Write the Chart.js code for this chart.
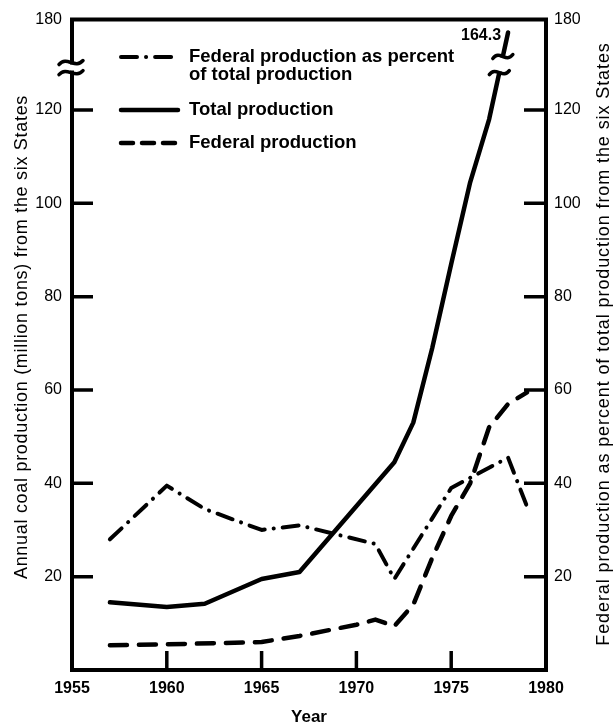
<!DOCTYPE html>
<html>
<head>
<meta charset="utf-8">
<script src="https://cdn.jsdelivr.net/npm/chart.js@4.4.0/dist/chart.umd.min.js"></script>
<style>
  html, body { margin: 0; padding: 0; background: #fff; }
  #wrap { width: 615px; height: 726px; }
</style>
</head>
<body>
<div id="wrap"><canvas id="c" width="615" height="726"></canvas></div>
<script>
// ---- data ----
const totalYears = [1957, 1960, 1962, 1965, 1967, 1972, 1973, 1974, 1975, 1976, 1977, 1978];
const totalProduction = [14.5, 13.5, 14.2, 19.5, 21.0, 44.5, 53, 69, 87, 104.5, 118, 164.3];

const federalYears = [1957, 1960, 1965, 1967, 1970, 1971, 1972, 1973, 1974, 1975, 1976, 1977, 1978, 1979];
const federalProduction = [5.3, 5.5, 6.0, 7.3, 9.7, 10.8, 9.4, 14, 24, 33, 40, 52, 57, 59.5];

const percentYears = [1957, 1960, 1962, 1965, 1967, 1971, 1972, 1975, 1978, 1979];
const federalPercent = [28, 39.5, 34.5, 30, 31, 27, 19.5, 39, 45.5, 35];

const yearTicks = [1955, 1960, 1965, 1970, 1975, 1980];
const valueTicks = [20, 40, 60, 80, 100, 120, 180];
const totalEndLabel = '164.3';

const legendLabels = [
  ['Federal production as percent', 'of total production'],
  ['Total production'],
  ['Federal production']
];
const leftTitle = 'Annual coal production (million tons) from the six States';
const rightTitle = 'Federal production as percent of total production from the six States';
const xTitle = 'Year';

// ---- broken value axis (0..128 linear, break, 128..180 compressed) ----
const BREAK_VALUE = 128, AXIS_MAX = 180;
const LOWER_FRAC = 0.9185, UPPER_FRAC = 0.934;

class BrokenLinearScale extends Chart.LinearScale {
  buildTicks() { return valueTicks.map(v => ({ value: v })); }
  _frac(v) {
    if (v <= BREAK_VALUE) return v / BREAK_VALUE * LOWER_FRAC;
    return UPPER_FRAC + (v - BREAK_VALUE) / (AXIS_MAX - BREAK_VALUE) * (1 - UPPER_FRAC);
  }
  getPixelForValue(v) {
    if (v === null || v === undefined || isNaN(v)) return NaN;
    return this.getPixelForDecimal(this._frac(v));
  }
  getValueForPixel(p) {
    const d = this.getDecimalForPixel(p);
    if (d <= LOWER_FRAC) return d / LOWER_FRAC * BREAK_VALUE;
    return BREAK_VALUE + (d - UPPER_FRAC) / (1 - UPPER_FRAC) * (AXIS_MAX - BREAK_VALUE);
  }
}
BrokenLinearScale.id = 'brokenLinear';
BrokenLinearScale.defaults = Chart.LinearScale.defaults;
Chart.register(BrokenLinearScale);

const NARROW = "'Liberation Sans Narrow', 'Arial Narrow', 'Liberation Sans', Arial, sans-serif";
const REGULAR = "'Liberation Sans', Arial, Helvetica, sans-serif";

const pts = (xs, ys) => xs.map((x, i) => ({ x: x, y: ys[i] }));

const DASHDOT = [16, 9, 0.1, 9];
const DASHED = [17, 12];

function tilde(ctx, cx, cy, hw) {
  ctx.beginPath();
  ctx.moveTo(cx - hw, cy + 2);
  ctx.bezierCurveTo(cx - hw / 3, cy - 7, cx + hw / 3, cy + 7, cx + hw, cy - 2);
  ctx.stroke();
}

const framePlugin = {
  id: 'frame',
  afterDraw(chart) {
    const { ctx, chartArea: a, scales } = chart;
    const x = scales.x, y = scales.y;
    ctx.save();
    ctx.strokeStyle = '#000';
    ctx.fillStyle = '#000';
    const yBrkLow = y.getPixelForValue(BREAK_VALUE);
    const yBrkHigh = y.getPixelForDecimal(UPPER_FRAC);

    // frame
    ctx.lineWidth = 4;
    ctx.lineCap = 'square';
    ctx.beginPath();
    ctx.moveTo(a.left, a.top); ctx.lineTo(a.right, a.top);
    ctx.lineTo(a.right, a.bottom); ctx.lineTo(a.left, a.bottom);
    ctx.lineTo(a.left, yBrkLow);
    ctx.moveTo(a.left, yBrkHigh); ctx.lineTo(a.left, a.top);
    ctx.stroke();

    // break marks on the left axis
    ctx.lineWidth = 3.5;
    ctx.lineCap = 'round';
    tilde(ctx, a.left - 1, yBrkHigh, 12);
    tilde(ctx, a.left - 1, yBrkLow, 12);

    // inward tick marks
    ctx.lineWidth = 3.5;
    ctx.lineCap = 'butt';
    valueTicks.forEach(v => {
      if (v > BREAK_VALUE) return;
      const py = y.getPixelForValue(v);
      ctx.beginPath();
      ctx.moveTo(a.left, py); ctx.lineTo(a.left + 21, py);
      ctx.moveTo(a.right - 22, py); ctx.lineTo(a.right, py);
      ctx.stroke();
    });
    yearTicks.forEach(v => {
      if (v <= x.min || v >= x.max) return;
      const px = x.getPixelForValue(v);
      ctx.beginPath();
      ctx.moveTo(px, a.bottom); ctx.lineTo(px, a.bottom - 19);
      ctx.stroke();
    });

    // break on the total production line
    const meta = chart.getDatasetMeta(1);
    const els = meta.data;
    const pA = els[els.length - 2], pB = els[els.length - 1];
    const xAt = yy => pA.x + (pB.x - pA.x) * (yy - pA.y) / (pB.y - pA.y);
    ctx.fillStyle = '#fff';
    ctx.beginPath();
    ctx.moveTo(xAt(yBrkLow) - 12, yBrkLow - 1);
    ctx.lineTo(xAt(yBrkLow) + 12, yBrkLow - 1);
    ctx.lineTo(xAt(yBrkHigh - 6) + 12, yBrkHigh - 5);
    ctx.lineTo(xAt(yBrkHigh - 6) - 12, yBrkHigh - 5);
    ctx.closePath();
    ctx.fill();
    ctx.lineWidth = 3.5;
    ctx.lineCap = 'round';
    tilde(ctx, xAt(yBrkLow), yBrkLow, 10);
    tilde(ctx, xAt(yBrkHigh - 6), yBrkHigh - 6, 10);

    // end label
    ctx.fillStyle = '#000';
    ctx.font = 'bold 16px ' + NARROW;
    ctx.textAlign = 'right';
    ctx.textBaseline = 'middle';
    ctx.fillText(totalEndLabel, pB.x - 7, pB.y + 3);

    // legend
    const ds = chart.data.datasets;
    const rows = [57, 110, 143];
    const sx0 = 121, sx1 = 176;
    ctx.font = 'bold 18.5px ' + NARROW;
    ctx.textAlign = 'left';
    ctx.textBaseline = 'middle';
    rows.forEach((ry, i) => {
      const d = ds[i];
      ctx.save();
      ctx.lineWidth = d.borderWidth;
      ctx.lineCap = 'round';
      ctx.setLineDash(i === 2 ? [12, 9] : (d.borderDash || []));
      ctx.beginPath();
      ctx.moveTo(sx0, ry);
      ctx.lineTo(i === 1 ? sx1 + 2 : sx1, ry);
      ctx.stroke();
      ctx.restore();
      legendLabels[i].forEach((t, k) => ctx.fillText(t, 189, ry + k * 18));
    });

    // axis titles
    ctx.font = '18px ' + REGULAR;
    ctx.textAlign = 'center';
    ctx.textBaseline = 'middle';
    if ('letterSpacing' in ctx) ctx.letterSpacing = '0.7px';
    ctx.save();
    ctx.translate(22, 337);
    ctx.rotate(-Math.PI / 2);
    ctx.fillText(leftTitle, 0, 0);
    ctx.restore();
    if ('letterSpacing' in ctx) ctx.letterSpacing = '0.9px';
    ctx.save();
    ctx.translate(604, 344);
    ctx.rotate(-Math.PI / 2);
    ctx.fillText(rightTitle, 0, 0);
    ctx.restore();
    if ('letterSpacing' in ctx) ctx.letterSpacing = '0px';

    ctx.font = 'bold 17px ' + NARROW;
    ctx.fillText(xTitle, (a.left + a.right) / 2, 717);
    ctx.restore();
  }
};

const yTickFont = { family: REGULAR, size: 16 };

new Chart(document.getElementById('c').getContext('2d'), {
  type: 'line',
  data: {
    datasets: [
      {
        label: 'Federal production as percent of total production',
        data: pts(percentYears, federalPercent),
        yAxisID: 'y1',
        borderColor: '#000', borderWidth: 4, borderDash: DASHDOT,
        borderCapStyle: 'round', borderJoinStyle: 'round',
        pointRadius: 0, tension: 0, fill: false
      },
      {
        label: 'Total production',
        data: pts(totalYears, totalProduction),
        yAxisID: 'y',
        borderColor: '#000', borderWidth: 4.5,
        borderCapStyle: 'round', borderJoinStyle: 'round',
        pointRadius: 0, tension: 0, fill: false
      },
      {
        label: 'Federal production',
        data: pts(federalYears, federalProduction),
        yAxisID: 'y',
        borderColor: '#000', borderWidth: 4.5, borderDash: DASHED,
        borderCapStyle: 'round', borderJoinStyle: 'round',
        pointRadius: 0, tension: 0, fill: false
      }
    ]
  },
  options: {
    animation: false,
    responsive: false,
    devicePixelRatio: 1,
    layout: { padding: { top: 15, left: 0, right: 0, bottom: 0 } },
    plugins: { legend: { display: false }, tooltip: { enabled: false } },
    scales: {
      x: {
        type: 'linear', position: 'bottom', min: 1955, max: 1980,
        grid: { display: false, drawTicks: false }, border: { display: false },
        afterBuildTicks: s => { s.ticks = yearTicks.map(v => ({ value: v })); },
        ticks: {
          padding: 9, color: '#000', maxRotation: 0, autoSkip: false,
          callback: v => String(v),
          font: { family: NARROW, weight: 'bold', size: 16 }
        },
        afterFit: s => { s.height = 56; }
      },
      y: {
        type: 'brokenLinear', position: 'left', min: 0, max: AXIS_MAX,
        grid: { display: false, drawTicks: false }, border: { display: false },
        ticks: { padding: 10, color: '#000', font: yTickFont, autoSkip: false },
        afterFit: s => { s.width = 72; }
      },
      y1: {
        type: 'brokenLinear', position: 'right', min: 0, max: AXIS_MAX,
        grid: { display: false, drawTicks: false }, border: { display: false },
        ticks: { padding: 8, color: '#000', font: yTickFont, autoSkip: false },
        afterFit: s => { s.width = 69; }
      }
    }
  },
  plugins: [framePlugin]
});
</script>
</body>
</html>
